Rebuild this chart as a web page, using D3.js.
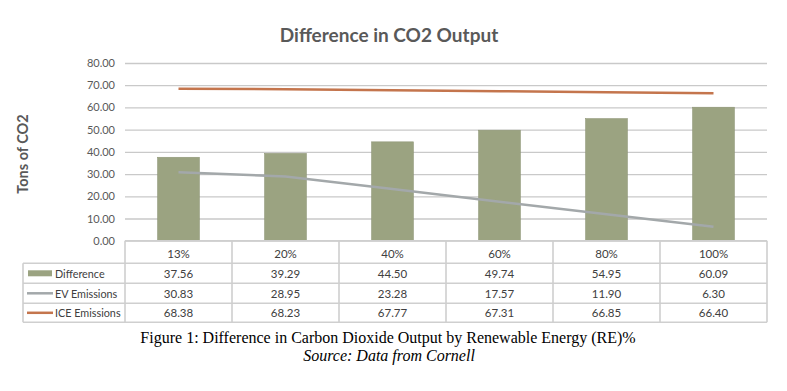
<!DOCTYPE html>
<html><head><meta charset="utf-8">
<script src="https://cdn.jsdelivr.net/npm/d3@7"></script>
<style>
html,body{margin:0;padding:0;background:#fff;}
svg{display:block;}
</style></head>
<body>
<svg id="chart" width="787" height="391"></svg>
<script>
const categories = ["13%", "20%", "40%", "60%", "80%", "100%"];
const difference = [37.56, 39.29, 44.50, 49.74, 54.95, 60.09];
const evEmissions = [30.83, 28.95, 23.28, 17.57, 11.90, 6.30];
const iceEmissions = [68.38, 68.23, 67.77, 67.31, 66.85, 66.40];
const yTicks = [0, 10, 20, 30, 40, 50, 60, 70, 80];
const seriesNames = ["Difference", "EV Emissions", "ICE Emissions"];

const svg = d3.select("#chart");
const pLeft = 125, pRight = 767, pTop = 63, pBottom = 240.7;
const sansFont = "Lato, 'Open Sans', sans-serif";
const textCol = "#595959";

const x = d3.scaleBand().domain(categories).range([pLeft, pRight]);
const y = d3.scaleLinear().domain([0, 80]).range([pBottom, pTop]);

// Title
svg.append("text").attr("x", 389).attr("y", 42).attr("text-anchor", "middle")
  .attr("font-family", sansFont).attr("font-weight", "bold").attr("font-size", 19)
  .attr("fill", textCol).text("Difference in CO2 Output");

// Gridlines + y axis
const yAxis = d3.axisLeft(y).tickValues(yTicks).tickSize(-(pRight - pLeft)).tickPadding(10)
  .tickFormat(d3.format(".2f"));
const gy = svg.append("g").attr("transform", `translate(${pLeft},0)`).call(yAxis);
gy.select(".domain").remove();
gy.selectAll(".tick line").attr("stroke", "#c9c9c9").attr("stroke-width", 1.3);
gy.selectAll(".tick text").attr("font-family", sansFont).attr("font-size", 11).attr("fill", textCol);

// Y label
svg.append("text").attr("transform", "translate(28,154) rotate(-90)").attr("text-anchor", "middle")
  .attr("font-family", sansFont).attr("font-weight", "bold").attr("font-size", 14.5)
  .attr("fill", textCol).text("Tons of CO2");

// Bars
const barW = x.bandwidth() * 0.39;
svg.append("g").selectAll("rect").data(difference).join("rect")
  .attr("x", (d, i) => x(categories[i]) + x.bandwidth() / 2 - barW / 2)
  .attr("y", d => y(d)).attr("width", barW).attr("height", d => y(0) - y(d))
  .attr("fill", "#9ba381").attr("stroke", "#8f9676").attr("stroke-width", 0.6);

// Lines
const line = d3.line().x((d, i) => x(categories[i]) + x.bandwidth() / 2).y(d => y(d));
svg.append("path").datum(evEmissions).attr("d", line).attr("fill", "none")
  .attr("stroke", "#a3a8aa").attr("stroke-width", 2.5);
svg.append("path").datum(iceEmissions).attr("d", line).attr("fill", "none")
  .attr("stroke", "#c4754d").attr("stroke-width", 2.5);

// Data table
const rowH = [pBottom, 263.3, 283.3, 303.3, 322.3];
const legLeft = 23;
const tableCol = "#cfcfcf";
const tg = svg.append("g");
tg.append("line").attr("x1", pLeft).attr("x2", pRight).attr("y1", rowH[0]).attr("y2", rowH[0]);
for (let r = 1; r < rowH.length; r++) {
  tg.append("line").attr("x1", legLeft).attr("x2", pRight).attr("y1", rowH[r]).attr("y2", rowH[r]);
}
categories.forEach(c => {
  tg.append("line").attr("x1", x(c)).attr("x2", x(c)).attr("y1", rowH[0]).attr("y2", rowH[4]);
});
tg.append("line").attr("x1", pRight).attr("x2", pRight).attr("y1", rowH[0]).attr("y2", rowH[4]);
tg.append("line").attr("x1", legLeft).attr("x2", legLeft).attr("y1", rowH[1]).attr("y2", rowH[4]);
tg.selectAll("line").attr("stroke", tableCol).attr("stroke-width", 1.6);

const cellText = (xp, yp, t, anchor, size) => tg.append("text").attr("x", xp).attr("y", yp)
  .attr("text-anchor", anchor || "middle").attr("dominant-baseline", "central")
  .attr("font-family", sansFont).attr("font-size", size || 11.5).attr("fill", "#404040").text(t);

categories.forEach(c => cellText(x(c) + x.bandwidth() / 2, (rowH[0] + rowH[1]) / 2 + 1, c));
const series = [difference, evEmissions, iceEmissions];
series.forEach((s, r) => {
  const cy = (rowH[r + 1] + rowH[r + 2]) / 2;
  s.forEach((v, i) => cellText(x(categories[i]) + x.bandwidth() / 2, cy, d3.format(".2f")(v)));
  cellText(55, cy, seriesNames[r], "start", 10.8);
});
const key0 = (rowH[1] + rowH[2]) / 2;
tg.append("rect").attr("x", 28).attr("y", key0 - 3).attr("width", 24).attr("height", 6).attr("fill", "#9ba381");
const key1 = (rowH[2] + rowH[3]) / 2;
tg.append("line").attr("x1", 27).attr("x2", 53).attr("y1", key1).attr("y2", key1).attr("stroke", "#a3a8aa").attr("stroke-width", 2.5);
const key2 = (rowH[3] + rowH[4]) / 2;
tg.append("line").attr("x1", 27).attr("x2", 53).attr("y1", key2).attr("y2", key2).attr("stroke", "#c4754d").attr("stroke-width", 2.5);

// Caption
svg.append("text").attr("x", 388).attr("y", 343).attr("text-anchor", "middle")
  .attr("font-family", "'Liberation Serif', 'Times New Roman', serif").attr("font-size", 16)
  .attr("fill", "#000").text("Figure 1: Difference in Carbon Dioxide Output by Renewable Energy (RE)%");
svg.append("text").attr("x", 389).attr("y", 361).attr("text-anchor", "middle")
  .attr("font-family", "'Liberation Serif', 'Times New Roman', serif").attr("font-size", 16)
  .attr("font-style", "italic").attr("fill", "#000").text("Source: Data from Cornell");
</script>
</body></html>
